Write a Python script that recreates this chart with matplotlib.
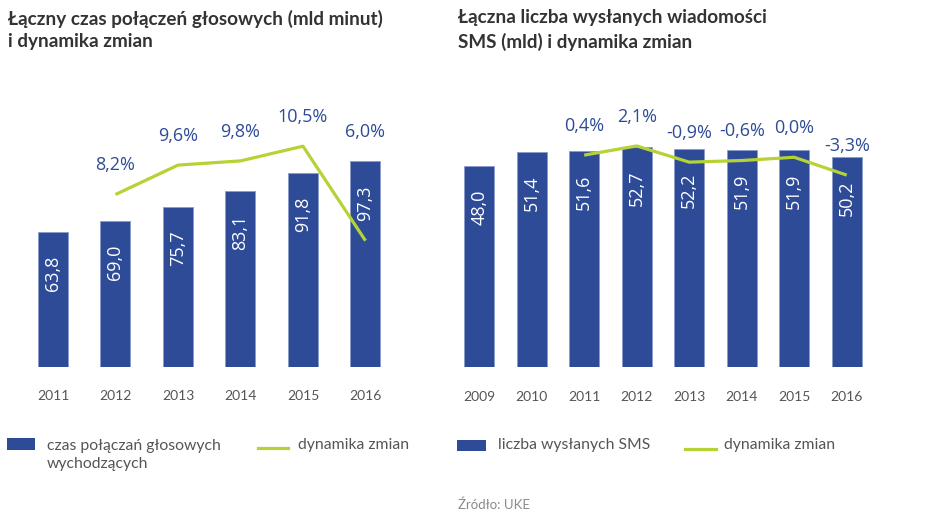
import matplotlib
matplotlib.use('Agg')
import matplotlib.pyplot as plt
from matplotlib.patches import Rectangle
from matplotlib.lines import Line2D

# data
voice_years = ['2011', '2012', '2013', '2014', '2015', '2016']
voice_minutes = [63.8, 69.0, 75.7, 83.1, 91.8, 97.3]
voice_change = [None, 8.2, 9.6, 9.8, 10.5, 6.0]

sms_years = ['2009', '2010', '2011', '2012', '2013', '2014', '2015', '2016']
sms_count = [48.0, 51.4, 51.6, 52.7, 52.2, 51.9, 51.9, 50.2]
sms_change = [None, None, 0.4, 2.1, -0.9, -0.6, 0.0, -3.3]

BLUE = '#2E4B97'
GREEN = '#B5D334'
TITLE = '#333333'
GREY = '#555555'

W, H = 945, 515
fig = plt.figure(figsize=(W / 100, H / 100), dpi=100)


def px_box(x0, y0, x1, y1):
    # pixel box (top-left origin) -> figure fraction rect
    return [x0 / W, (H - y1) / H, (x1 - x0) / W, (y1 - y0) / H]


def fmt(v, pct=False):
    s = f'{v:.1f}'.replace('.', ',')
    return s + '%' if pct else s


def draw(rect, years, bars, change, ylim1, ylim2, bw, above_bars):
    ax = fig.add_axes(rect)
    x = list(range(len(years)))
    ax.bar(x, bars, width=bw, color=BLUE, edgecolor='#8A9BCB', linewidth=0.6)
    ax.set_xlim(-0.5, len(years) - 0.5)
    ax.set_ylim(*ylim1)
    ax.set_xticks(x)
    ax.set_xticklabels(years, family='Lato', fontsize=10, color=GREY)
    ax.tick_params(axis='x', length=0, pad=17)
    ax.set_yticks([])
    for s in ax.spines.values():
        s.set_visible(False)
    for i, v in enumerate(bars):
        ax.annotate(fmt(v), (i, v), xytext=(0, -17), textcoords='offset points',
                    rotation=90, ha='center', va='top', color='white',
                    family='Open Sans', fontsize=13)

    ax2 = ax.twinx()
    ax2.set_ylim(*ylim2)
    ax2.set_yticks([])
    for s in ax2.spines.values():
        s.set_visible(False)
    xs = [i for i, c in enumerate(change) if c is not None]
    ys = [c for c in change if c is not None]
    ax2.plot(xs, ys, color=GREEN, lw=2.3, solid_capstyle='butt')
    scale = (ylim2[1] - ylim2[0]) / (ylim1[1] - ylim1[0])
    for i, c in zip(xs, ys):
        anchor = c
        if above_bars:
            anchor = max(c, ylim2[0] + bars[i] * scale)
        ax2.annotate(fmt(c, True), (i, anchor), xytext=(0, 21),
                     textcoords='offset points', ha='center', va='center',
                     color=BLUE, family='Open Sans', fontsize=13)
    return ax


draw(px_box(21.75, 100, 396.75, 366.7), voice_years, voice_minutes, voice_change,
     (0, 126.4), (0, 12.70), 0.48, True)
draw(px_box(452.95, 100, 872.95, 367.3), sms_years, sms_count, sms_change,
     (0, 63.8), (-38.9, 10.61), 0.571, False)

# titles
fig.text(8 / W, 1 - 30 / H, 'Łączny czas połączeń głosowych (mld minut)\ni dynamika zmian',
         ha='left', va='center', family='Lato', weight='bold', fontsize=13.6,
         color=TITLE, linespacing=1.4)
fig.text(458 / W, 1 - 30 / H, 'Łączna liczba wysłanych wiadomości\nSMS (mld) i dynamika zmian',
         ha='left', va='center', family='Lato', weight='bold', fontsize=13.6,
         color=TITLE, linespacing=1.4)


def legend_box(x0, y0, x1, y1):
    fig.add_artist(Rectangle((x0 / W, 1 - y1 / H), (x1 - x0) / W, (y1 - y0) / H,
                             transform=fig.transFigure, color=BLUE, lw=0))


def legend_line(x0, x1, y):
    fig.add_artist(Line2D([x0 / W, x1 / W], [1 - y / H, 1 - y / H],
                          transform=fig.transFigure, color=GREEN, lw=2.3))


def legend_text(x, y, s):
    fig.text(x / W, 1 - y / H, s, ha='left', va='center', family='Lato',
             fontsize=11.3, color=GREY, linespacing=1.3)


legend_box(7, 438, 35, 450)
legend_text(47, 455, 'czas połączań głosowych\nwychodzących')
legend_line(258, 288, 448)
legend_text(298, 445, 'dynamika zmian')

legend_box(457, 440, 486, 451)
legend_text(498, 445, 'liczba wysłanych SMS')
legend_line(685, 716, 449)
legend_text(724, 445, 'dynamika zmian')

fig.text(458 / W, 1 - 505 / H, 'Źródło: UKE', ha='left', va='center', family='Lato',
         fontsize=9.5, color='#8A8A8A')

fig.savefig('out.png', dpi=100)
